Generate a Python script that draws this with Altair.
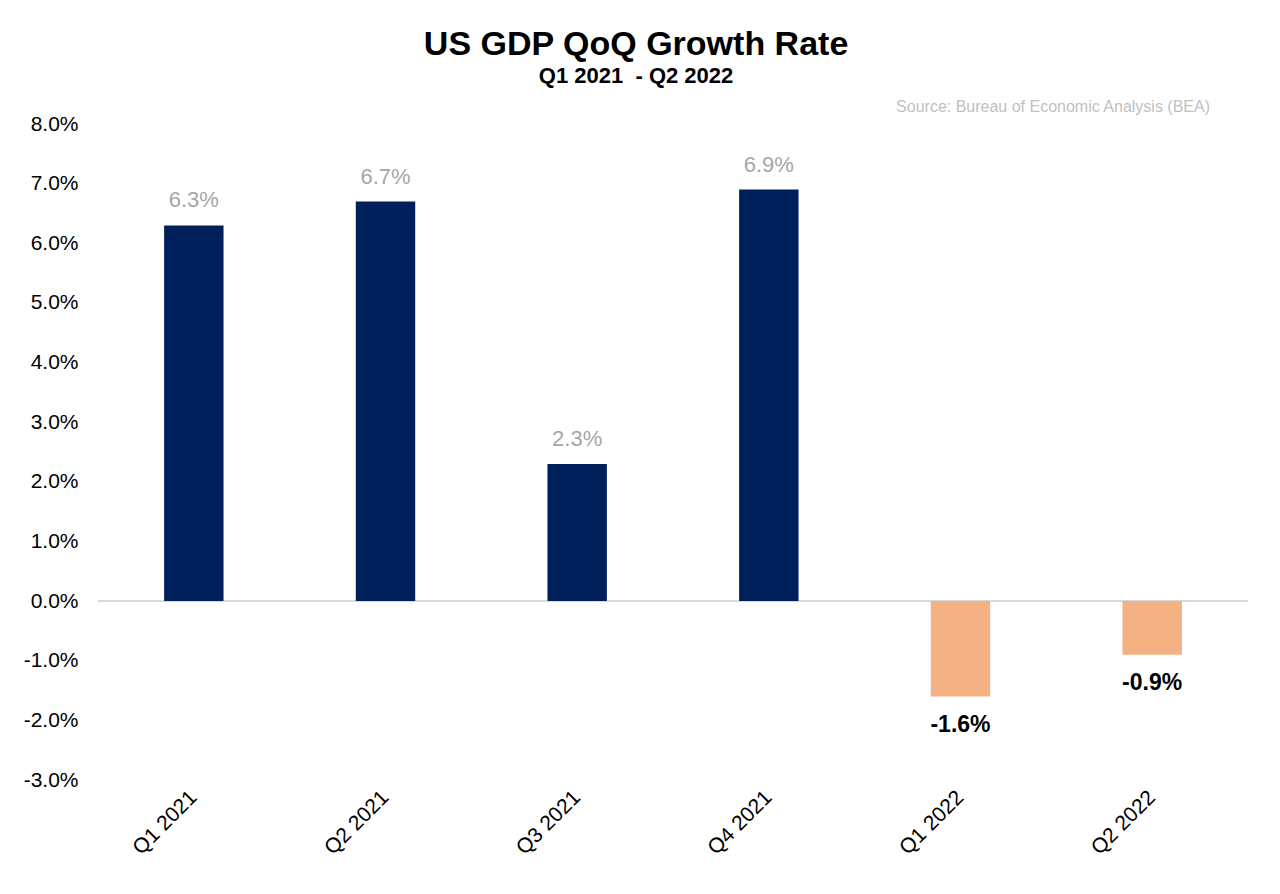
import altair as alt
import pandas as pd

quarters = ["Q1 2021", "Q2 2021", "Q3 2021", "Q4 2021", "Q1 2022", "Q2 2022"]
growth = [6.3, 6.7, 2.3, 6.9, -1.6, -0.9]
y_ticks = [-3, -2, -1, 0, 1, 2, 3, 4, 5, 6, 7, 8]

df = pd.DataFrame({"quarter": quarters, "growth": growth})
df["sign"] = ["pos" if v >= 0 else "neg" for v in df["growth"]]
df["label"] = [f"{v:.1f}%" for v in df["growth"]]

FONT = "Liberation Sans"
W, H = 1150, 656

x_enc = alt.X("quarter:N", sort=quarters, title=None,
              scale=alt.Scale(paddingInner=0.69, paddingOuter=0.345),
              axis=alt.Axis(labelAngle=-45, labelFontSize=21, labelColor="#000000",
                            labelFont=FONT, domain=False, ticks=False, labelPadding=14,
                            labelAlign="right", labelBaseline="middle"))
y_scale = alt.Scale(domain=[-3, 8], nice=False)
y_enc = alt.Y("growth:Q", scale=y_scale, title=None,
              axis=alt.Axis(values=y_ticks,
                            labelExpr="(datum.value < 0 ? '-' : '') + format(abs(datum.value), '.1f') + '%'",
                            labelFontSize=21, labelColor="#000000", labelFont=FONT,
                            grid=False, domain=False, ticks=False, labelPadding=20))

bars = alt.Chart(df).mark_bar().encode(
    x=x_enc,
    y=y_enc,
    y2=alt.datum(0),
    color=alt.Color("sign:N", scale=alt.Scale(domain=["pos", "neg"], range=["#00205b", "#f4b183"]), legend=None),
)

zero = alt.Chart(pd.DataFrame({"z": [0]})).mark_rule(color="#d9d9d9", strokeWidth=2).encode(
    y=alt.Y("z:Q", scale=y_scale)
)

pos_labels = alt.Chart(df).transform_filter("datum.growth >= 0").mark_text(
    dy=-25, fontSize=22, color="#a6a6a6", font=FONT
).encode(x=alt.X("quarter:N", sort=quarters), y=alt.Y("growth:Q", scale=y_scale), text="label:N")

neg_labels = alt.Chart(df).transform_filter("datum.growth < 0").mark_text(
    dy=28, fontSize=23, fontWeight="bold", color="#000000", font=FONT
).encode(x=alt.X("quarter:N", sort=quarters), y=alt.Y("growth:Q", scale=y_scale), text="label:N")

source = alt.Chart(pd.DataFrame({"t": ["Source: Bureau of Economic Analysis (BEA)"]})).mark_text(
    align="right", baseline="middle", fontSize=16, color="#bfbfbf", font=FONT
).encode(x=alt.value(W - 38), y=alt.value(-17), text="t:N")

chart = alt.layer(zero, bars, pos_labels, neg_labels, source).properties(
    width=W, height=H,
    title=alt.TitleParams(
        "US GDP QoQ Growth Rate",
        subtitle="Q1 2021\u00a0\u00a0- Q2 2022",
        font=FONT, fontSize=34, fontWeight="bold", color="#000000",
        subtitleFont=FONT, subtitleFontSize=22, subtitleFontWeight="bold", subtitleColor="#000000",
        anchor="middle", frame="bounds", offset=12, subtitlePadding=4,
    ),
    padding={"left": 90, "top": 116, "right": 22, "bottom": 100},
    autosize=alt.AutoSizeParams(type="none"),
).configure_view(stroke=None)

chart.save("out.html", embed_options={"renderer": "svg", "actions": False})
